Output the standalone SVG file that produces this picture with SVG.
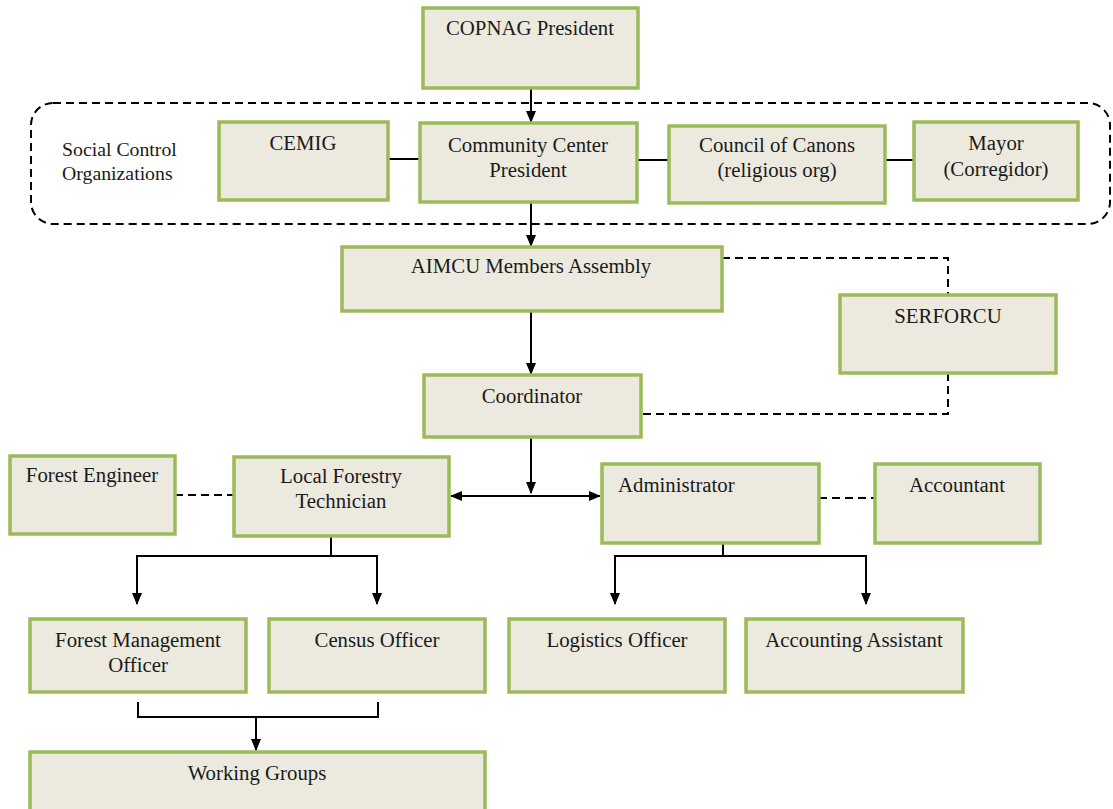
<svg xmlns="http://www.w3.org/2000/svg" width="1113" height="809" viewBox="0 0 1113 809">
<style>
.box{fill:#ECEADF;stroke:#9BBB59;stroke-width:3.5}
.t{font-family:"Liberation Serif","Times New Roman",serif;font-size:20.8px;fill:#1a1a1a;text-anchor:middle}
.l{font-family:"Liberation Serif","Times New Roman",serif;font-size:19.8px;fill:#1a1a1a}
.ln{fill:none;stroke:#000;stroke-width:2}
.ar{fill:none;stroke:#000;stroke-width:2;marker-end:url(#ah)}
.ds{fill:none;stroke:#000;stroke-width:2;stroke-dasharray:8 5}
</style>
<defs>
<marker id="ah" viewBox="0 0 12 12" refX="11" refY="6" markerWidth="12" markerHeight="12" markerUnits="userSpaceOnUse" orient="auto">
<path d="M0,1 L12,6 L0,11 Z" fill="#000"/>
</marker>
<marker id="ahs" viewBox="0 0 12 12" refX="1" refY="6" markerWidth="12" markerHeight="12" markerUnits="userSpaceOnUse" orient="auto">
<path d="M12,1 L0,6 L12,11 Z" fill="#000"/>
</marker>
</defs>
<rect width="1113" height="809" fill="#fff"/>
<g id="social-control-group">
<rect x="31" y="103" width="1079" height="121" rx="22" ry="22" class="ds"/>
<text class="l" x="62" y="156">Social Control</text>
<text class="l" x="62" y="180">Organizations</text>
</g>
<g id="connectors">
<line class="ar" x1="531" y1="88" x2="531" y2="122"/>
<line class="ln" x1="388" y1="159" x2="420" y2="159"/>
<line class="ln" x1="637" y1="160" x2="669" y2="160"/>
<line class="ln" x1="885" y1="160" x2="914" y2="160"/>
<line class="ar" x1="531" y1="202" x2="531" y2="246"/>
<line class="ar" x1="531" y1="311" x2="531" y2="374"/>
<polyline class="ds" points="722,258 948,258 948,295"/>
<polyline class="ds" points="948,373 948,414 641,414"/>
<line class="ar" x1="531" y1="437" x2="531" y2="493"/>
<line class="ln" x1="451" y1="496" x2="600" y2="496" marker-start="url(#ahs)" marker-end="url(#ah)"/>
<line class="ds" x1="175" y1="495" x2="234" y2="495"/>
<line class="ds" x1="819" y1="498" x2="875" y2="498"/>
<polyline class="ln" points="331,536 331,556"/>
<polyline class="ar" points="137,556 137,604"/>
<polyline class="ar" points="377,556 377,604"/>
<line class="ln" x1="136" y1="556" x2="378" y2="556"/>
<polyline class="ln" points="723,543 723,556"/>
<line class="ln" x1="614" y1="556" x2="867" y2="556"/>
<polyline class="ar" points="615,556 615,604"/>
<polyline class="ar" points="866,556 866,604"/>
<polyline class="ln" points="138,702 138,717 378,717 378,702"/>
<line class="ar" x1="256" y1="717" x2="256" y2="750"/>
</g>
<g id="copnag"><rect class="box" x="423" y="8" width="215" height="80"/><text class="t" x="530" y="35">COPNAG President</text></g>
<g id="cemig"><rect class="box" x="219" y="122" width="169" height="78"/><text class="t" x="303" y="150">CEMIG</text></g>
<g id="community-center"><rect class="box" x="420" y="123" width="217" height="79"/><text class="t" x="528" y="152">Community Center</text><text class="t" x="528" y="177">President</text></g>
<g id="council"><rect class="box" x="669" y="126" width="216" height="77"/><text class="t" x="777" y="152">Council of Canons</text><text class="t" x="777" y="177">(religious org)</text></g>
<g id="mayor"><rect class="box" x="914" y="122" width="164" height="78"/><text class="t" x="996" y="150">Mayor</text><text class="t" x="996" y="176">(Corregidor)</text></g>
<g id="aimcu"><rect class="box" x="342" y="247" width="380" height="64"/><text class="t" x="531" y="273">AIMCU Members Assembly</text></g>
<g id="serforcu"><rect class="box" x="840" y="295" width="216" height="78"/><text class="t" x="948" y="323">SERFORCU</text></g>
<g id="coordinator"><rect class="box" x="424" y="375" width="217" height="62"/><text class="t" x="532" y="403">Coordinator</text></g>
<g id="forest-engineer"><rect class="box" x="10" y="456" width="165" height="78"/><text class="t" x="92" y="482">Forest Engineer</text></g>
<g id="local-forestry-technician"><rect class="box" x="234" y="457" width="215" height="79"/><text class="t" x="341" y="483">Local Forestry</text><text class="t" x="341" y="508">Technician</text></g>
<g id="administrator"><rect class="box" x="602" y="464" width="217" height="79"/><text class="t" x="618" y="492" style="text-anchor:start">Administrator</text></g>
<g id="accountant"><rect class="box" x="875" y="464" width="165" height="79"/><text class="t" x="957" y="492">Accountant</text></g>
<g id="forest-management-officer"><rect class="box" x="30" y="619" width="216" height="73"/><text class="t" x="138" y="647">Forest Management</text><text class="t" x="138" y="672">Officer</text></g>
<g id="census-officer"><rect class="box" x="269" y="619" width="216" height="73"/><text class="t" x="377" y="647">Census Officer</text></g>
<g id="logistics-officer"><rect class="box" x="509" y="619" width="216" height="73"/><text class="t" x="617" y="647">Logistics Officer</text></g>
<g id="accounting-assistant"><rect class="box" x="746" y="619" width="217" height="73"/><text class="t" x="854" y="647">Accounting Assistant</text></g>
<g id="working-groups"><rect class="box" x="30" y="752" width="455" height="70"/><text class="t" x="257" y="780">Working Groups</text></g>
</svg>
